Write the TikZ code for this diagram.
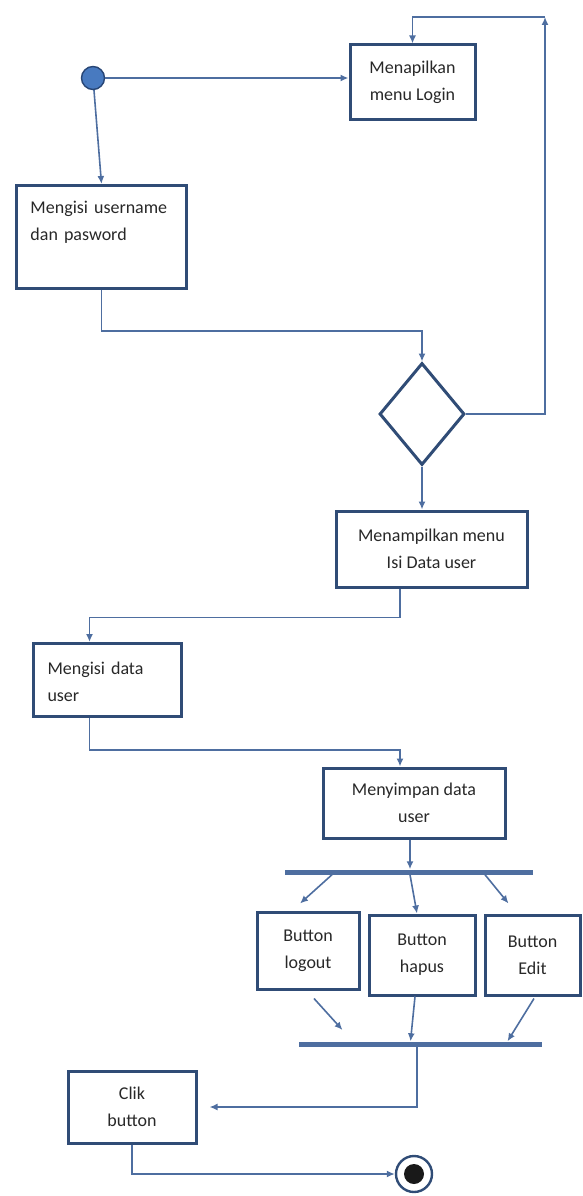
\documentclass[tikz,border=0pt]{standalone}
\usepackage{fontspec}
\setmainfont{Carlito}
\usetikzlibrary{arrows.meta,shapes.geometric}
\definecolor{garis}{RGB}{78,110,160}
\definecolor{kotakbiru}{RGB}{48,76,118}
\definecolor{teks}{RGB}{40,40,40}
\definecolor{awal}{RGB}{72,122,192}
\definecolor{awalgaris}{RGB}{40,70,118}
\begin{document}
\begin{tikzpicture}[x=1pt,y=-1pt,
    aktivitas/.style={draw=kotakbiru,line width=3pt,rectangle,inner sep=0pt,
      font=\fontsize{18}{27}\selectfont,text=teks,align=center},
    kiri/.style={anchor=north west,align=left,inner xsep=14pt,inner ysep=14pt},
    panah/.style={draw=garis,line width=1.6pt,-{Latex[length=8pt,width=7pt]}},
    palang/.style={fill=garis,rectangle,inner sep=0pt,minimum height=5pt}]
    \useasboundingbox (0,0) rectangle (583,1196);
    % Awal
    \node[circle,fill=awal,draw=awalgaris,line width=1.4pt,minimum size=23pt,inner sep=0pt] (mulai) at (93,78) {};
    % Aktivitas
    \node[aktivitas,minimum width=125pt,minimum height=75pt] (login) at (412.5,82.5) {Menapilkan\\menu Login};
    \node[aktivitas,kiri,text width=142pt,text height=14pt,text depth=61pt] (isilogin) at (15,184) {Mengisi username\\dan pasword};
    \node[draw=kotakbiru,line width=3pt,diamond,minimum width=85pt,minimum height=102pt,inner sep=0pt] (cek) at (422,414) {};
    \node[aktivitas,minimum width=191pt,minimum height=76pt] (menu) at (431.5,549) {Menampilkan menu\\Isi Data user};
    \node[aktivitas,kiri,text width=120pt,text height=17pt,text depth=28pt] (isidata) at (32,642) {Mengisi data\\user};
    \node[aktivitas,minimum width=182pt,minimum height=70pt] (simpan) at (414,803) {Menyimpan data\\user};
    % Fork
    \node[palang,minimum width=248pt] (fork) at (409,872) {};
    \node[aktivitas,minimum width=102pt,minimum height=77pt] (logout) at (308,950.5) {Button\\logout};
    \node[aktivitas,minimum width=106pt,minimum height=80pt] (hapus) at (422,955) {Button\\hapus};
    \node[aktivitas,minimum width=95pt,minimum height=80pt] (edit) at (532.5,955) {Button\\Edit};
    \node[palang,minimum width=243pt] (join) at (420.5,1044) {};
    \node[aktivitas,minimum width=128pt,minimum height=72pt] (clik) at (132,1107) {Clik\\button};
    % Akhir
    \node[circle,draw=kotakbiru,line width=2.4pt,minimum size=36pt,inner sep=0pt] (selesai) at (414,1174) {};
    \node[circle,fill=black!90,minimum size=20pt,inner sep=0pt] (selesaiisi) at (selesai) {};
    \coordinate (puncak) at (545,17);
    % Panah
    \draw[panah] (mulai) -- (mulai -| login.west);
    \draw[panah] (mulai) -- (isilogin.north);
    \draw[panah] (isilogin.south) -- ++(0,41) -| (cek.north);
    \draw[panah] (cek.east) -| (puncak);
    \draw[panah] (puncak) -| (login.north);
    \draw[panah] (cek.south) -- (cek.south |- menu.north);
    \draw[panah] ([xshift=-31.5pt]menu.south) -- ++(0,29) -| ([xshift=-18pt]isidata.north);
    \draw[panah] ([xshift=-18pt]isidata.south) -- ++(0,32) -| ([xshift=-14pt]simpan.north);
    \draw[panah] ([xshift=-4pt]simpan.south) -- ([xshift=1pt]fork.north);
    \draw[panah] ([xshift=-77pt]fork.south) -- ([xshift=-8pt,yshift=7pt]logout.north);
    \draw[panah] ([xshift=1pt]fork.south) -- ([xshift=-5pt]hapus.north);
    \draw[panah] ([xshift=76pt]fork.south) -- ([xshift=-24pt,yshift=10pt]edit.north);
    \draw[panah] ([xshift=6pt,yshift=-8pt]logout.south) -- ([xshift=-78pt,yshift=14pt]join.center);
    \draw[panah] ([xshift=-7pt]hapus.south) -- ([xshift=-10pt]join.north);
    \draw[panah] ([xshift=1.5pt,yshift=-2pt]edit.south) -- ([xshift=87pt]join.north);
    \draw[panah,line width=2.4pt] ([xshift=-3.5pt]join.south) |- ([xshift=12pt]clik.east);
    \draw[panah] (clik.south) |- (selesai.west);
\end{tikzpicture}
\end{document}
